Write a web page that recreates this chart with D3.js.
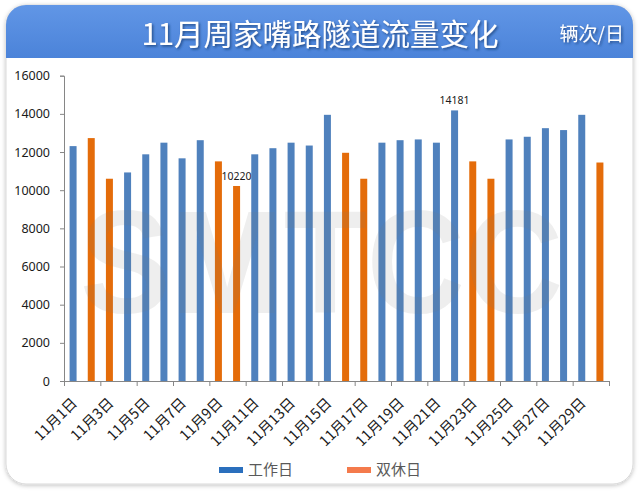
<!DOCTYPE html>
<html>
<head>
<meta charset="utf-8">
<script src="https://cdn.jsdelivr.net/npm/d3@7/dist/d3.min.js"></script>
<style>
  html, body { margin: 0; padding: 0; background: #ffffff; }
  svg { display: block; }
</style>
</head>
<body>
<svg id="chart" width="640" height="491"></svg>
<script>
// ---- data ----
const days = d3.range(1, 31).map(d => "11月" + d + "日");
const workday = [12310, null, null, 10930, 11880, 12490, 11670, 12620, null, null,
                 11880, 12200, 12490, 12340, 13950, null, null, 12490, 12620, 12660,
                 12490, 14181, null, null, 12660, 12800, 13250, 13150, 13950, null];
const weekend = [null, 12730, 10600, null, null, null, null, null, 11510, 10220,
                 null, null, null, null, null, 11960, 10600, null, null, null,
                 null, null, 11510, 10600, null, null, null, null, null, 11450];
const yTicks = [0, 2000, 4000, 6000, 8000, 10000, 12000, 14000, 16000];
const labelled = { "11月10日": 10220, "11月22日": 14181 };
const seriesNames = ["工作日", "双休日"];
const title = "11月周家嘴路隧道流量变化";
const unit = "辆次/日";
const watermark = "SMTCC";

// ---- layout ----
const svg = d3.select("#chart");
const cjk = "'Noto Sans CJK SC', 'Noto Sans', sans-serif";
const num = "'Noto Sans', 'Open Sans', sans-serif";

const defs = svg.append("defs");
const sh = defs.append("filter").attr("id", "cardShadow").attr("x", "-5%").attr("y", "-5%").attr("width", "110%").attr("height", "110%");
sh.append("feDropShadow").attr("dx", 0).attr("dy", 1).attr("stdDeviation", 2).attr("flood-color", "#000").attr("flood-opacity", 0.25);
const ts = defs.append("filter").attr("id", "textShadow").attr("x", "-10%").attr("y", "-30%").attr("width", "120%").attr("height", "160%");
ts.append("feDropShadow").attr("dx", 1.5).attr("dy", 1.5).attr("stdDeviation", 0.8).attr("flood-color", "#1a3c78").attr("flood-opacity", 0.8);
const grad = defs.append("linearGradient").attr("id", "hdr").attr("x1", 0).attr("y1", 0).attr("x2", 0).attr("y2", 1);
grad.append("stop").attr("offset", "0%").attr("stop-color", "#6196e6");
grad.append("stop").attr("offset", "100%").attr("stop-color", "#4b83d9");
const clip = defs.append("clipPath").attr("id", "cardClip");

const card = { x: 6, y: 5, w: 627, h: 479, r: 20 };
clip.append("rect").attr("x", card.x).attr("y", card.y).attr("width", card.w).attr("height", card.h).attr("rx", card.r);

svg.append("rect").attr("x", card.x).attr("y", card.y).attr("width", card.w).attr("height", card.h)
  .attr("rx", card.r).attr("fill", "#ffffff").attr("stroke", "#d9d9d9").attr("stroke-width", 1)
  .attr("filter", "url(#cardShadow)");
svg.append("rect").attr("x", card.x).attr("y", card.y).attr("width", card.w).attr("height", 53)
  .attr("fill", "url(#hdr)").attr("clip-path", "url(#cardClip)");

svg.append("text").attr("x", 320).attr("y", 45).attr("text-anchor", "middle")
  .attr("font-family", cjk).attr("font-size", 29.5).attr("fill", "#ffffff")
  .attr("filter", "url(#textShadow)").text(title);
svg.append("text").attr("x", 624).attr("y", 41).attr("text-anchor", "end")
  .attr("font-family", cjk).attr("font-size", 19).attr("fill", "#ffffff")
  .attr("filter", "url(#textShadow)").text(unit);

// ---- scales ----
const x0 = 64, x1 = 609, yBottom = 381, yTop = 75.7;
const x = d3.scaleBand().domain(days).range([x0, x1]).paddingInner(0.615).paddingOuter(0.3075);
const xi = d3.scaleLinear().domain([0, days.length]).range([x0, x1]);
const y = d3.scaleLinear().domain([0, 16000]).range([yBottom, yTop]);

// bars
const g = svg.append("g");
const colors = { work: "#4f81bd", rest: "#e46c0a" };
g.selectAll("rect.w").data(days.map((d, i) => ({ d, v: workday[i] })).filter(o => o.v != null))
  .join("rect").attr("x", o => x(o.d)).attr("width", x.bandwidth())
  .attr("y", o => y(o.v)).attr("height", o => y(0) - y(o.v)).attr("fill", colors.work);
g.selectAll("rect.r").data(days.map((d, i) => ({ d, v: weekend[i] })).filter(o => o.v != null))
  .join("rect").attr("x", o => x(o.d)).attr("width", x.bandwidth())
  .attr("y", o => y(o.v)).attr("height", o => y(0) - y(o.v)).attr("fill", colors.rest);

// watermark
svg.append("text").attr("x", 80).attr("y", 313)
  .attr("font-family", "'Liberation Sans', Arial, sans-serif").attr("font-weight", "bold")
  .attr("font-size", 146).attr("textLength", 483).attr("lengthAdjust", "spacingAndGlyphs")
  .attr("fill", "#7f7f7f").attr("fill-opacity", 0.13).text(watermark);

// data labels
Object.entries(labelled).forEach(([d, v]) => {
  svg.append("text").attr("x", x(d) + x.bandwidth() / 2).attr("y", y(v) - 6)
    .attr("text-anchor", "middle").attr("font-family", num).attr("font-size", 10.5)
    .attr("fill", "#1a1a1a").text(v);
});

// y axis
const yAxis = svg.append("g").attr("transform", `translate(${x0},0)`)
  .call(d3.axisLeft(y).tickValues(yTicks).tickSize(4).tickPadding(10).tickFormat(d3.format("d")));
yAxis.selectAll("path, line").attr("stroke", "#868686");
yAxis.selectAll("text").attr("font-family", num).attr("font-size", 12.5).attr("fill", "#1a1a1a");

// x axis
const xAxis = svg.append("g").attr("transform", `translate(0,${yBottom})`)
  .call(d3.axisBottom(xi).tickValues(d3.range(0, days.length + 1, 2)).tickSize(5).tickSizeOuter(0).tickFormat(""));
xAxis.selectAll("path, line").attr("stroke", "#868686");

// x labels (odd days)
svg.append("g").selectAll("text").data(days.filter((d, i) => i % 2 === 0)).join("text")
  .attr("transform", d => `translate(${x(d) + x.bandwidth() / 2 + 5},${yBottom + 23}) rotate(-45)`)
  .attr("text-anchor", "end").attr("font-family", cjk).attr("font-size", 14.5)
  .attr("fill", "#1a1a1a").text(d => d);

// legend
const leg = svg.append("g");
const legItems = [
  { name: seriesNames[0], color: "#2a6fbd", x: 219 },
  { name: seriesNames[1], color: "#f47a4c", x: 347 }
];
legItems.forEach(it => {
  leg.append("rect").attr("x", it.x).attr("y", 467).attr("width", 24).attr("height", 6).attr("fill", it.color);
  leg.append("text").attr("x", it.x + 29).attr("y", 475).attr("font-family", cjk).attr("font-size", 15)
    .attr("fill", "#595959").text(it.name);
});
</script>
</body>
</html>
